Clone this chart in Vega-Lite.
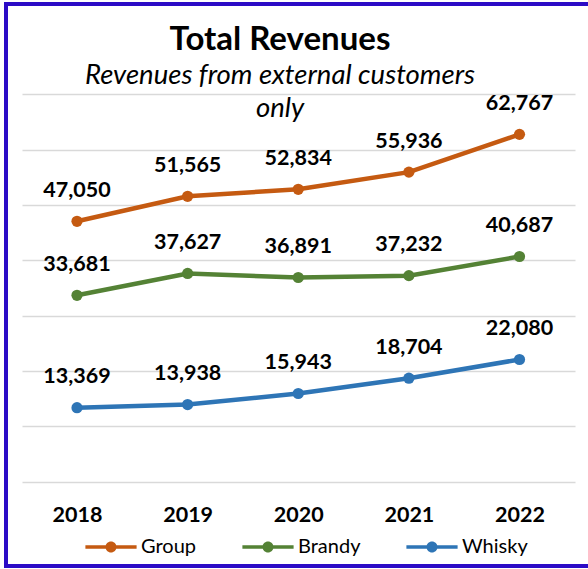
{
  "$schema": "https://vega.github.io/schema/vega-lite/v6.json",
  "width": 590,
  "height": 562,
  "autosize": {"type": "none"},
  "padding": {"left": 6, "top": 4, "right": -8, "bottom": 3},
  "background": "white",
  "config": {
    "view": {"stroke": "#2b0bc6", "strokeWidth": 4, "fill": "white"},
    "font": "Lato"
  },
  "title": {
    "text": "Total Revenues",
    "subtitle": ["Revenues from external customers", "only"],
    "anchor": "middle",
    "frame": "group",
    "orient": "top",
    "offset": -118,
    "dx": -21,
    "font": "Lato",
    "fontSize": 33,
    "fontWeight": "bold",
    "color": "#000000",
    "subtitleFont": "Lato",
    "subtitleFontSize": 27.5,
    "subtitleFontStyle": "italic",
    "subtitleColor": "#000000",
    "subtitleLineHeight": 33,
    "subtitlePadding": 5
  },
  "data": {
    "values": [
      {"year": "2018", "segment": "Group", "revenue": 47050},
      {"year": "2019", "segment": "Group", "revenue": 51565},
      {"year": "2020", "segment": "Group", "revenue": 52834},
      {"year": "2021", "segment": "Group", "revenue": 55936},
      {"year": "2022", "segment": "Group", "revenue": 62767},
      {"year": "2018", "segment": "Brandy", "revenue": 33681},
      {"year": "2019", "segment": "Brandy", "revenue": 37627},
      {"year": "2020", "segment": "Brandy", "revenue": 36891},
      {"year": "2021", "segment": "Brandy", "revenue": 37232},
      {"year": "2022", "segment": "Brandy", "revenue": 40687},
      {"year": "2018", "segment": "Whisky", "revenue": 13369},
      {"year": "2019", "segment": "Whisky", "revenue": 13938},
      {"year": "2020", "segment": "Whisky", "revenue": 15943},
      {"year": "2021", "segment": "Whisky", "revenue": 18704},
      {"year": "2022", "segment": "Whisky", "revenue": 22080}
    ]
  },
  "encoding": {
    "x": {
      "field": "year",
      "type": "ordinal",
      "scale": {"type": "point", "range": [71, 513.5], "padding": 0},
      "axis": {
        "orient": "bottom",
        "offset": -44.3,
        "ticks": false,
        "tickSize": 0,
        "domain": false,
        "grid": false,
        "labelPadding": 0,
        "labelBaseline": "alphabetic",
        "labelFont": "Lato",
        "labelFontSize": 21.5,
        "labelFontWeight": "bold",
        "labelColor": "#000000",
        "labelAngle": 0,
        "title": null
      }
    },
    "y": {
      "field": "revenue",
      "type": "quantitative",
      "scale": {"domain": [-15232, 86316], "nice": false, "zero": false},
      "axis": {
        "orient": "left",
        "offset": -569,
        "values": [0, 10000, 20000, 30000, 40000, 50000, 60000, 70000],
        "labels": false,
        "domain": false,
        "grid": false,
        "ticks": true,
        "tickSize": 553,
        "tickColor": "#d9d9d9",
        "tickWidth": 1.3,
        "title": null
      }
    },
    "color": {
      "field": "segment",
      "type": "nominal",
      "scale": {"domain": ["Group", "Brandy", "Whisky"], "range": ["#c55a11", "#548235", "#2e75b6"]},
      "legend": {
        "orient": "none",
        "legendX": 79,
        "legendY": 517,
        "direction": "horizontal",
        "title": null,
        "symbolType": "M -1 -0.066 L 1 -0.066 L 1 0.066 L -1 0.066 Z M 0.215 0 A 0.215 0.215 0 1 1 -0.215 0 A 0.215 0.215 0 1 1 0.215 0 Z",
        "symbolSize": 2621,
        "symbolStrokeWidth": 0,
        "labelFont": "Lato",
        "labelFontSize": 20,
        "labelColor": "#000000",
        "labelOffset": 4,
        "columnPadding": 45,
        "padding": 0,
        "encode": {"symbols": {"update": {"fill": {"scale": "color", "field": "value"}, "opacity": {"value": 1}}}}
      }
    }
  },
  "layer": [
    {"mark": {"type": "line", "strokeWidth": 4.5}},
    {"mark": {"type": "point", "filled": true, "size": 125, "opacity": 1}},
    {
      "mark": {"type": "text", "dy": -24.5, "baseline": "alphabetic", "align": "center", "font": "Lato", "fontSize": 21.5, "fontWeight": "bold"},
      "encoding": {"text": {"field": "revenue", "type": "quantitative", "format": ","}, "color": {"value": "#000000"}}
    }
  ]
}
